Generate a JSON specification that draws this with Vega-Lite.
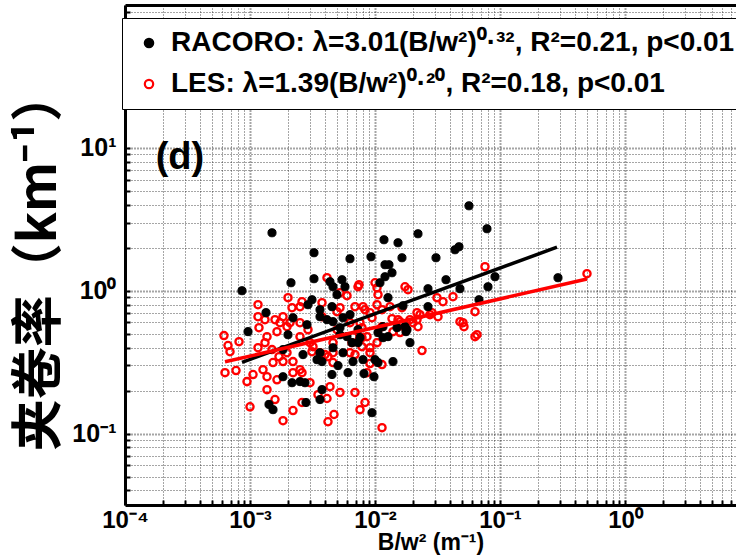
{
 "$schema": "https://vega.github.io/schema/vega-lite/v6.json",
 "width": 611,
 "height": 500,
 "autosize": {"type": "none"},
 "padding": {"left": 125, "top": 5, "right": 0, "bottom": 54},
 "background": "white",
 "view": {"stroke": null},
 "config": {
  "font": "Liberation Sans",
  "legend": {
   "orient": "none", "legendX": -3, "legendY": 13,
   "fillColor": "white", "strokeColor": "black", "padding": 11,
   "rowPadding": 13, "symbolSize": 70, "symbolStrokeWidth": 2.2, "symbolOpacity": 1,
   "symbolOffset": 2, "labelOffset": 8, "labelFont": "Liberation Sans",
   "labelFontSize": 28, "labelFontWeight": "bold", "labelColor": "black", "labelLimit": 0
  }
 },
 "resolve": {"axis": {"x": "independent"}},
 "layer": [
  {
   "data": {"values": [
    {"s":"LES","x":6.19e-4,"y":0.485},{"s":"LES","x":6.67e-4,"y":0.413},{"s":"LES","x":6.92e-4,"y":0.374},{"s":"LES","x":8.17e-4,"y":0.440},{"s":"LES","x":6.31e-4,"y":0.267},{"s":"LES","x":7.73e-4,"y":0.276},{"s":"LES","x":9.46e-4,"y":0.231},{"s":"LES","x":1.057e-3,"y":0.259},{"s":"LES","x":1.0e-3,"y":0.154},{"s":"LES","x":1.368e-3,"y":0.203},{"s":"LES","x":1.585e-3,"y":0.173},{"s":"LES","x":1.837e-3,"y":0.123},{"s":"LES","x":2.208e-3,"y":0.145},{"s":"LES","x":1.644e-3,"y":0.238},{"s":"LES","x":1.271e-3,"y":0.280},{"s":"LES","x":1.159e-3,"y":0.798},{"s":"LES","x":1.159e-3,"y":0.658},{"s":"LES","x":1.18e-3,"y":0.551},{"s":"LES","x":1.368e-3,"y":0.477},{"s":"LES","x":1.318e-3,"y":0.433},{"s":"LES","x":1.5e-3,"y":0.387},{"s":"LES","x":1.159e-3,"y":0.399},{"s":"LES","x":1.706e-3,"y":0.345},{"s":"LES","x":1.528e-3,"y":0.314},{"s":"LES","x":1.837e-3,"y":0.319},{"s":"LES","x":1.977e-3,"y":0.368},{"s":"LES","x":2.208e-3,"y":0.319},{"s":"LES","x":2.512e-3,"y":0.280},{"s":"LES","x":2.208e-3,"y":0.267},{"s":"LES","x":2.014e-3,"y":0.894},{"s":"LES","x":1.837e-3,"y":0.658},{"s":"LES","x":1.585e-3,"y":0.627},{"s":"LES","x":2.168e-3,"y":0.760},{"s":"LES","x":2.512e-3,"y":0.773},{"s":"LES","x":1.977e-3,"y":0.560},{"s":"LES","x":2.512e-3,"y":0.597},{"s":"LES","x":2.512e-3,"y":0.477},{"s":"LES","x":2.911e-3,"y":0.534},{"s":"LES","x":3.02e-3,"y":0.433},{"s":"LES","x":3.133e-3,"y":0.374},{"s":"LES","x":3.767e-3,"y":0.824},{"s":"LES","x":3.767e-3,"y":0.658},{"s":"LES","x":4.13e-3,"y":1.233},{"s":"LES","x":5.248e-3,"y":0.968},{"s":"LES","x":5.97e-3,"y":0.923},{"s":"LES","x":7.311e-3,"y":1.066},{"s":"LES","x":4.365e-3,"y":0.213},{"s":"LES","x":5.248e-3,"y":0.194},{"s":"LES","x":4.207e-3,"y":0.121},{"s":"LES","x":4.699e-3,"y":0.136},{"s":"LES","x":6.918e-3,"y":0.194},{"s":"LES","x":7.586e-3,"y":0.147},{"s":"LES","x":3.02e-3,"y":0.227},{"s":"LES","x":4.613e-3,"y":0.368},{"s":"LES","x":3.631e-3,"y":0.368},{"s":"LES","x":4.207e-3,"y":0.345},{"s":"LES","x":4.966e-3,"y":0.534},{"s":"LES","x":6.668e-3,"y":0.477},{"s":"LES","x":7.87e-3,"y":0.406},{"s":"LES","x":8.318e-3,"y":0.736},{"s":"LES","x":7.586e-3,"y":0.597},{"s":"LES","x":6.31e-3,"y":0.368},{"s":"LES","x":1.368e-3,"y":0.250},{"s":"LES","x":2.606e-3,"y":0.165},{"s":"LES","x":3.499e-3,"y":0.187},{"s":"LES","x":4.13e-3,"y":0.176},{"s":"LES","x":8.318e-3,"y":0.165},{"s":"LES","x":0.01138,"y":0.110},{"s":"LES","x":0.02377,"y":0.381},{"s":"LES","x":0.01138,"y":0.304},{"s":"LES","x":9.12e-3,"y":0.309},{"s":"LES","x":4.613e-3,"y":0.314},{"s":"LES","x":0.01038,"y":1.049},{"s":"LES","x":0.01,"y":1.137},{"s":"LES","x":0.01738,"y":1.066},{"s":"LES","x":0.01837,"y":1.016},{"s":"LES","x":0.03133,"y":0.894},{"s":"LES","x":0.03499,"y":0.838},{"s":"LES","x":0.04207,"y":0.908},{"s":"LES","x":0.0631,"y":0.713},{"s":"LES","x":0.05058,"y":0.597},{"s":"LES","x":0.06546,"y":0.492},{"s":"LES","x":0.04786,"y":0.607},{"s":"LES","x":0.0631,"y":0.477},{"s":"LES","x":0.03192,"y":0.658},{"s":"LES","x":0.02858,"y":0.702},{"s":"LES","x":0.02168,"y":0.627},{"s":"LES","x":0.01585,"y":0.607},{"s":"LES","x":0.01393,"y":0.517},{"s":"LES","x":0.01368,"y":0.637},{"s":"LES","x":9.12e-3,"y":0.399},{"s":"LES","x":8.63e-3,"y":0.267},{"s":"LES","x":2.606e-3,"y":0.267},{"s":"LES","x":6.546e-3,"y":0.433},{"s":"LES","x":4.613e-3,"y":0.433},{"s":"LES","x":3.981e-3,"y":0.357},{"s":"LES","x":3.192e-3,"y":0.406},{"s":"LES","x":6.918e-3,"y":0.773},{"s":"LES","x":5.248e-3,"y":0.760},{"s":"LES","x":6.31e-3,"y":0.597},{"s":"LES","x":9.12e-3,"y":0.702},{"s":"LES","x":0.01318,"y":0.773},{"s":"LES","x":0.01644,"y":0.760},{"s":"LES","x":0.02168,"y":0.702},{"s":"LES","x":0.02208,"y":0.560},{"s":"LES","x":0.02014,"y":0.597},{"s":"LES","x":0.01528,"y":0.627},{"s":"LES","x":0.01038,"y":0.798},{"s":"LES","x":0.01057,"y":0.938},{"s":"LES","x":9.12e-3,"y":0.368},{"s":"LES","x":8.63e-3,"y":0.477},{"s":"LES","x":0.01138,"y":0.560},{"s":"LES","x":0.01038,"y":0.433},{"s":"LES","x":6.918e-3,"y":0.357},{"s":"LES","x":0.07586,"y":1.472},{"s":"LES","x":0.4966,"y":1.315},{"s":"LES","x":0.05152,"y":0.560},{"s":"LES","x":1.318e-3,"y":0.627},{"s":"LES","x":1.738e-3,"y":0.597},{"s":"LES","x":1.644e-3,"y":0.517},{"s":"LES","x":2.089e-3,"y":0.597},{"s":"LES","x":2.606e-3,"y":0.838},{"s":"LES","x":7.447e-3,"y":1.102},{"s":"LES","x":4.966e-3,"y":0.713},{"s":"LES","x":8.017e-3,"y":0.773},{"s":"LES","x":0.01138,"y":0.736},{"s":"LES","x":0.02291,"y":0.680},{"s":"LES","x":0.01905,"y":0.627},{"s":"LES","x":0.02754,"y":0.680},{"s":"LES","x":9.462e-3,"y":0.647},{"s":"LES","x":7.87e-3,"y":0.551},{"s":"LES","x":0.01585,"y":0.509},{"s":"LES","x":7.87e-3,"y":0.469},
    {"s":"RACORO","x":8.63e-4,"y":1.0},{"s":"RACORO","x":1.5e-3,"y":2.544},{"s":"RACORO","x":3.251e-3,"y":1.844},{"s":"RACORO","x":2.128e-3,"y":1.137},{"s":"RACORO","x":3.251e-3,"y":1.213},{"s":"RACORO","x":6.31e-3,"y":1.674},{"s":"RACORO","x":9.29e-3,"y":1.729},{"s":"RACORO","x":0.0118,"y":2.274},{"s":"RACORO","x":0.01528,"y":2.166},{"s":"RACORO","x":0.01644,"y":1.701},{"s":"RACORO","x":0.01202,"y":1.52},{"s":"RACORO","x":0.01294,"y":1.52},{"s":"RACORO","x":0.01202,"y":1.253},{"s":"RACORO","x":0.01368,"y":1.336},{"s":"RACORO","x":0.02208,"y":2.504},{"s":"RACORO","x":0.05649,"y":3.93},{"s":"RACORO","x":0.0787,"y":2.715},{"s":"RACORO","x":0.04365,"y":1.935},{"s":"RACORO","x":0.04699,"y":2.031},{"s":"RACORO","x":0.03076,"y":1.701},{"s":"RACORO","x":0.01096,"y":1.137},{"s":"RACORO","x":4.365e-3,"y":1.156},{"s":"RACORO","x":5.445e-3,"y":1.194},{"s":"RACORO","x":4.613e-3,"y":1.066},{"s":"RACORO","x":5.754e-3,"y":1.066},{"s":"RACORO","x":4.966e-3,"y":0.938},{"s":"RACORO","x":0.03698,"y":1.194},{"s":"RACORO","x":0.04786,"y":1.033},{"s":"RACORO","x":0.02655,"y":1.033},{"s":"RACORO","x":0.08017,"y":1.066},{"s":"RACORO","x":0.0912,"y":1.253},{"s":"RACORO","x":0.2911,"y":1.233},{"s":"RACORO","x":0.06792,"y":0.865},{"s":"RACORO","x":0.02655,"y":0.773},{"s":"RACORO","x":0.01271,"y":0.894},{"s":"RACORO","x":0.01675,"y":0.785},{"s":"RACORO","x":4.529e-3,"y":0.773},{"s":"RACORO","x":3.631e-3,"y":0.658},{"s":"RACORO","x":2.858e-3,"y":0.578},{"s":"RACORO","x":4.613e-3,"y":0.607},{"s":"RACORO","x":5.546e-3,"y":0.647},{"s":"RACORO","x":5.248e-3,"y":0.551},{"s":"RACORO","x":7.311e-3,"y":0.534},{"s":"RACORO","x":7.586e-3,"y":0.469},{"s":"RACORO","x":6.546e-3,"y":0.433},{"s":"RACORO","x":4.613e-3,"y":0.399},{"s":"RACORO","x":5.546e-3,"y":0.368},{"s":"RACORO","x":3.631e-3,"y":0.368},{"s":"RACORO","x":2.655e-3,"y":0.357},{"s":"RACORO","x":3.767e-3,"y":0.319},{"s":"RACORO","x":4.529e-3,"y":0.259},{"s":"RACORO","x":6.081e-3,"y":0.267},{"s":"RACORO","x":6.668e-3,"y":0.319},{"s":"RACORO","x":8.017e-3,"y":0.329},{"s":"RACORO","x":0.01,"y":0.329},{"s":"RACORO","x":0.01057,"y":0.314},{"s":"RACORO","x":0.01393,"y":0.319},{"s":"RACORO","x":8.166e-3,"y":0.263},{"s":"RACORO","x":9.817e-3,"y":0.25},{"s":"RACORO","x":0.01057,"y":0.509},{"s":"RACORO","x":0.01159,"y":0.469},{"s":"RACORO","x":0.01271,"y":0.477},{"s":"RACORO","x":0.0177,"y":0.517},{"s":"RACORO","x":0.01905,"y":0.433},{"s":"RACORO","x":0.01738,"y":0.56},{"s":"RACORO","x":9.462e-3,"y":0.14},{"s":"RACORO","x":3.767e-3,"y":0.203},{"s":"RACORO","x":3.631e-3,"y":0.173},{"s":"RACORO","x":2.805e-3,"y":0.165},{"s":"RACORO","x":2.754e-3,"y":0.227},{"s":"RACORO","x":9.64e-4,"y":0.517},{"s":"RACORO","x":1.343e-3,"y":0.702},{"s":"RACORO","x":2.014e-3,"y":0.492},{"s":"RACORO","x":2.208e-3,"y":0.647},{"s":"RACORO","x":3.133e-3,"y":0.865},{"s":"RACORO","x":2.911e-3,"y":0.798},{"s":"RACORO","x":3.631e-3,"y":0.736},{"s":"RACORO","x":3.436e-3,"y":0.329},{"s":"RACORO","x":1.837e-3,"y":0.25},{"s":"RACORO","x":2.168e-3,"y":0.227},{"s":"RACORO","x":2.512e-3,"y":0.231},{"s":"RACORO","x":1.419e-3,"y":0.16},{"s":"RACORO","x":1.528e-3,"y":0.147},{"s":"RACORO","x":5.058e-3,"y":0.299},{"s":"RACORO","x":5.97e-3,"y":0.477},{"s":"RACORO","x":5.248e-3,"y":0.492},{"s":"RACORO","x":6.31e-3,"y":0.68},{"s":"RACORO","x":7.311e-3,"y":0.433},{"s":"RACORO","x":1.837e-3,"y":0.387},{"s":"RACORO","x":0.015,"y":0.551},{"s":"RACORO","x":0.01159,"y":0.56},{"s":"RACORO","x":0.01803,"y":0.534},{"s":"RACORO","x":4.13e-3,"y":0.627}
   ]},
   "mark": {"type": "point", "shape": "circle", "opacity": 1},
   "encoding": {
    "x": {"field": "x", "type": "quantitative", "title": "B/w² (m⁻¹)",
     "scale": {"type": "log", "domain": [0.0001, 7.73], "nice": false},
     "axis": {
      "orient": "bottom",
      "values": [0.0001,0.0002,0.0003,0.0004,0.0005,0.0006,0.0007,0.0008,0.0009,0.001,0.002,0.003,0.004,0.005,0.006,0.007,0.008,0.009,0.01,0.02,0.03,0.04,0.05,0.06,0.07,0.08,0.09,0.1,0.2,0.3,0.4,0.5,0.6,0.7,0.8,0.9,1,2,3,4,5,6,7],
      "labelExpr": "datum.value == 0.0001 ? '10⁻⁴' : datum.value == 0.001 ? '10⁻³' : datum.value == 0.01 ? '10⁻²' : datum.value == 0.1 ? '10⁻¹' : datum.value == 1 ? '10⁰' : ''",
      "grid": true, "gridColor": "#111111", "gridOpacity": 0.75,
      "gridDash": [1, 2],
      "gridWidth": {"condition": {"test": "abs(log(datum.value)/LN10 - round(log(datum.value)/LN10)) < 0.01", "value": 2}, "value": 1},
      "domain": true, "domainColor": "black", "domainWidth": 3,
      "ticks": true, "tickSize": -5, "tickColor": "black", "tickWidth": 2,
      "labelFont": "Liberation Sans", "labelFontSize": 24, "labelFontWeight": "bold", "labelColor": "black",
      "labelPadding": 8, "labelOverlap": false, "labelFlush": false, "labelBound": false,
      "titleFont": "Liberation Sans", "titleFontSize": 23, "titleFontWeight": "bold", "titleColor": "black", "titlePadding": -1
     }
    },
    "y": {"field": "y", "type": "quantitative", "title": "夹卷率（km⁻¹）",
     "scale": {"type": "log", "domain": [0.03162, 100], "nice": false},
     "axis": {
      "values": [0.04,0.05,0.06,0.07,0.08,0.09,0.1,0.2,0.3,0.4,0.5,0.6,0.7,0.8,0.9,1,2,3,4,5,6,7,8,9,10,20,30,40,50,60,70,80,90],
      "labelExpr": "datum.value == 10 ? '10¹' : datum.value == 1 ? '10⁰' : datum.value == 0.1 ? '10⁻¹' : ''",
      "grid": true, "gridColor": "#111111", "gridOpacity": 0.75,
      "gridDash": [1, 2],
      "gridWidth": {"condition": {"test": "abs(log(datum.value)/LN10 - round(log(datum.value)/LN10)) < 0.01", "value": 2}, "value": 1},
      "domain": true, "domainColor": "black", "domainWidth": 3,
      "ticks": true, "tickSize": -5, "tickColor": "black", "tickWidth": 2,
      "labelFont": "Liberation Sans", "labelFontSize": 25, "labelFontWeight": "bold", "labelColor": "black",
      "labelPadding": 14, "labelOverlap": false, "labelFlush": false, "labelBound": false,
      "titleFont": "Noto Sans CJK SC", "titleFontSize": 52, "titleFontWeight": "bold", "titleColor": "black",
      "titleAngle": 270, "titleX": -86, "titleY": 255, "titleAlign": "center", "titleBaseline": "middle"
     }
    },
    "stroke": {"field": "s", "type": "nominal",
     "scale": {"domain": ["RACORO", "LES"], "range": ["black", "red"]},
     "legend": {"title": null, "labelExpr": "datum.value == 'RACORO' ? 'RACORO: λ=3.01(B/w²)⁰·³², R²=0.21, p<0.01' : 'LES: λ=1.39(B/w²)⁰·²⁰, R²=0.18, p<0.01'"}},
    "fill": {"field": "s", "type": "nominal",
     "scale": {"domain": ["RACORO", "LES"], "range": ["black", "transparent"]},
     "legend": {"title": null, "labelExpr": "datum.value == 'RACORO' ? 'RACORO: λ=3.01(B/w²)⁰·³², R²=0.21, p<0.01' : 'LES: λ=1.39(B/w²)⁰·²⁰, R²=0.18, p<0.01'"}},
    "size": {"condition": {"test": "datum.s == 'LES'", "value": 52}, "value": 66},
    "strokeWidth": {"condition": {"test": "datum.s == 'LES'", "value": 2.3}, "value": 1}
   }
  },
  {
   "data": {"values": [
    {"s": "RACORO", "x": 8.63e-4, "y": 0.315},
    {"s": "RACORO", "x": 0.2858, "y": 2.016},
    {"s": "LES", "x": 6.31e-4, "y": 0.318},
    {"s": "LES", "x": 0.4966, "y": 1.208}
   ]},
   "mark": {"type": "line", "strokeWidth": 3.5},
   "encoding": {
    "x": {"field": "x", "type": "quantitative", "title": null,
     "scale": {"type": "log", "domain": [0.0001, 7.73], "nice": false},
     "axis": {"orient": "top", "labels": false, "ticks": false, "grid": false, "domain": true, "domainColor": "black", "domainWidth": 3, "title": null}},
    "y": {"field": "y", "type": "quantitative", "title": "夹卷率（km⁻¹）",
     "scale": {"type": "log", "domain": [0.03162, 100], "nice": false}},
    "detail": {"field": "s", "type": "nominal"},
    "stroke": {"condition": {"test": "datum.s == 'LES'", "value": "red"}, "value": "black"}
   }
  },
  {
   "data": {"values": [{"t": "(d)", "x": 2.75e-4, "y": 8.5}]},
   "mark": {"type": "text", "font": "Liberation Sans", "fontSize": 38, "fontWeight": "bold", "color": "black", "align": "center", "baseline": "middle"},
   "encoding": {
    "x": {"field": "x", "type": "quantitative", "axis": null,
     "scale": {"type": "log", "domain": [0.0001, 7.73], "nice": false}},
    "y": {"field": "y", "type": "quantitative", "title": "夹卷率（km⁻¹）",
     "scale": {"type": "log", "domain": [0.03162, 100], "nice": false}},
    "text": {"field": "t"}
   }
  }
 ]
}
